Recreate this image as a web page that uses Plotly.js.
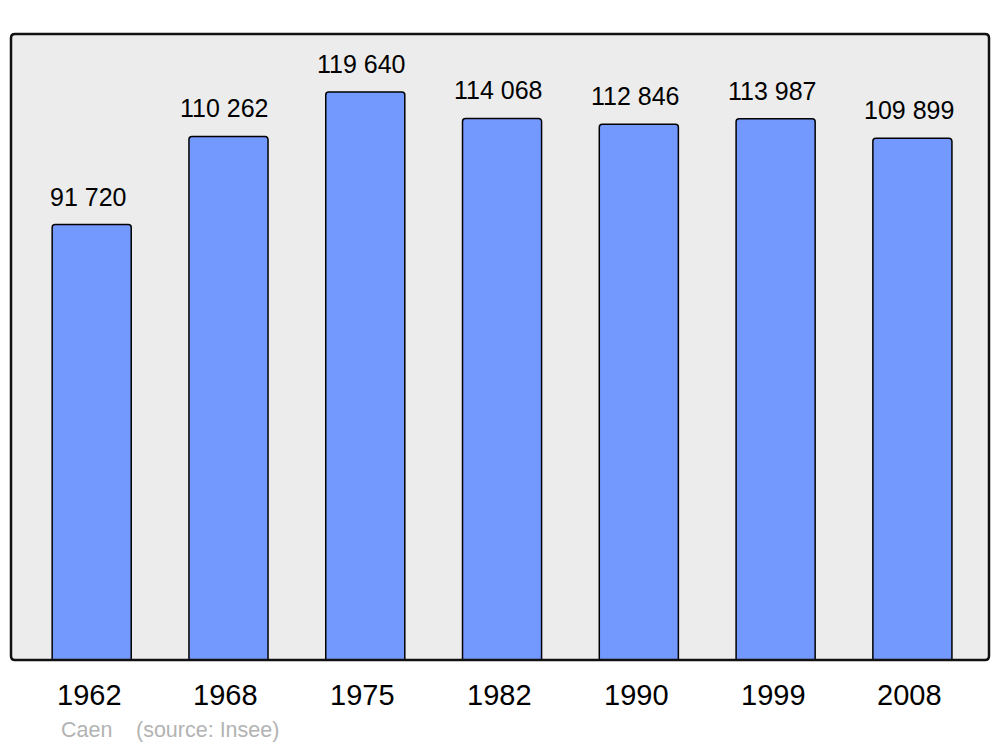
<!DOCTYPE html>
<html>
<head>
<meta charset="utf-8">
<script src="https://cdn.plot.ly/plotly-3.0.1.min.js"></script>
<style>html,body{margin:0;padding:0;background:#fff;}#chart{width:1000px;height:747px;}</style>
</head>
<body>
<div id="chart"></div>
<script>
const years = ["1962", "1968", "1975", "1982", "1990", "1999", "2008"];
const population = [91720, 110262, 119640, 114068, 112846, 113987, 109899];
const valueLabels = ["91 720", "110 262", "119 640", "114 068", "112 846", "113 987", "109 899"];
const cityName = "Caen";
const sourceText = "(source: Insee)";

const W = 1000, H = 747;
const L = 11, R = 11, T = 34, B = 87;
const pw = W - L - R, ph = H - T - B;
const YMAX = 131850;
const FONT = 'Liberation Sans, Arial, sans-serif';

const trace = {
  type: 'bar',
  x: years,
  y: population,
  width: 0.578,
  marker: {color: '#7399ff', line: {color: '#000', width: 1.5}, cornerradius: 3},
  hoverinfo: 'skip'
};

const annotations = years.map((yr, i) => ({
  x: i, y: population[i] / YMAX, xref: 'x', yref: 'paper',
  text: valueLabels[i], showarrow: false,
  yanchor: 'bottom', yshift: 12, xshift: -3.5,
  font: {family: FONT, size: 25, color: '#000'}
}));
years.forEach((yr, i) => annotations.push({
  x: i, y: 0, xref: 'x', yref: 'paper',
  text: yr, showarrow: false,
  yanchor: 'middle', yshift: -35, xshift: -2.5,
  font: {family: FONT, size: 29, color: '#000'}
}));
annotations.push({
  xref: 'paper', yref: 'paper', x: (59 - L) / pw, y: -(730 - (H - B)) / ph,
  xanchor: 'left', yanchor: 'middle', showarrow: false, text: cityName,
  font: {family: FONT, size: 21.5, color: '#b3b3b3'}
});
annotations.push({
  xref: 'paper', yref: 'paper', x: (134 - L) / pw, y: -(730 - (H - B)) / ph,
  xanchor: 'left', yanchor: 'middle', showarrow: false, text: sourceText,
  font: {family: FONT, size: 21.5, color: '#b3b3b3'}
});

const rx = 4 / pw, ry = 4 / ph;
const framePath = `M ${rx} 0 L ${1 - rx} 0 Q 1 0 1 ${ry} L 1 ${1 - ry} Q 1 1 ${1 - rx} 1 L ${rx} 1 Q 0 1 0 ${1 - ry} L 0 ${ry} Q 0 0 ${rx} 0 Z`;

const layout = {
  width: W, height: H,
  margin: {l: L, r: R, t: T, b: B, pad: 0},
  paper_bgcolor: '#ffffff',
  plot_bgcolor: '#ececec',
  showlegend: false,
  xaxis: {
    type: 'category', range: [-0.59, 6.56], showgrid: false, zeroline: false,
    showline: false, ticks: '', showticklabels: false, fixedrange: true
  },
  yaxis: {range: [0, YMAX], visible: false, fixedrange: true},
  annotations: annotations,
  shapes: [{
    type: 'path', xref: 'paper', yref: 'paper', path: framePath,
    line: {color: '#111', width: 2.5}, layer: 'above', fillcolor: 'rgba(0,0,0,0)'
  }]
};

Plotly.newPlot('chart', [trace], layout, {displayModeBar: false, staticPlot: true});
</script>
</body>
</html>
